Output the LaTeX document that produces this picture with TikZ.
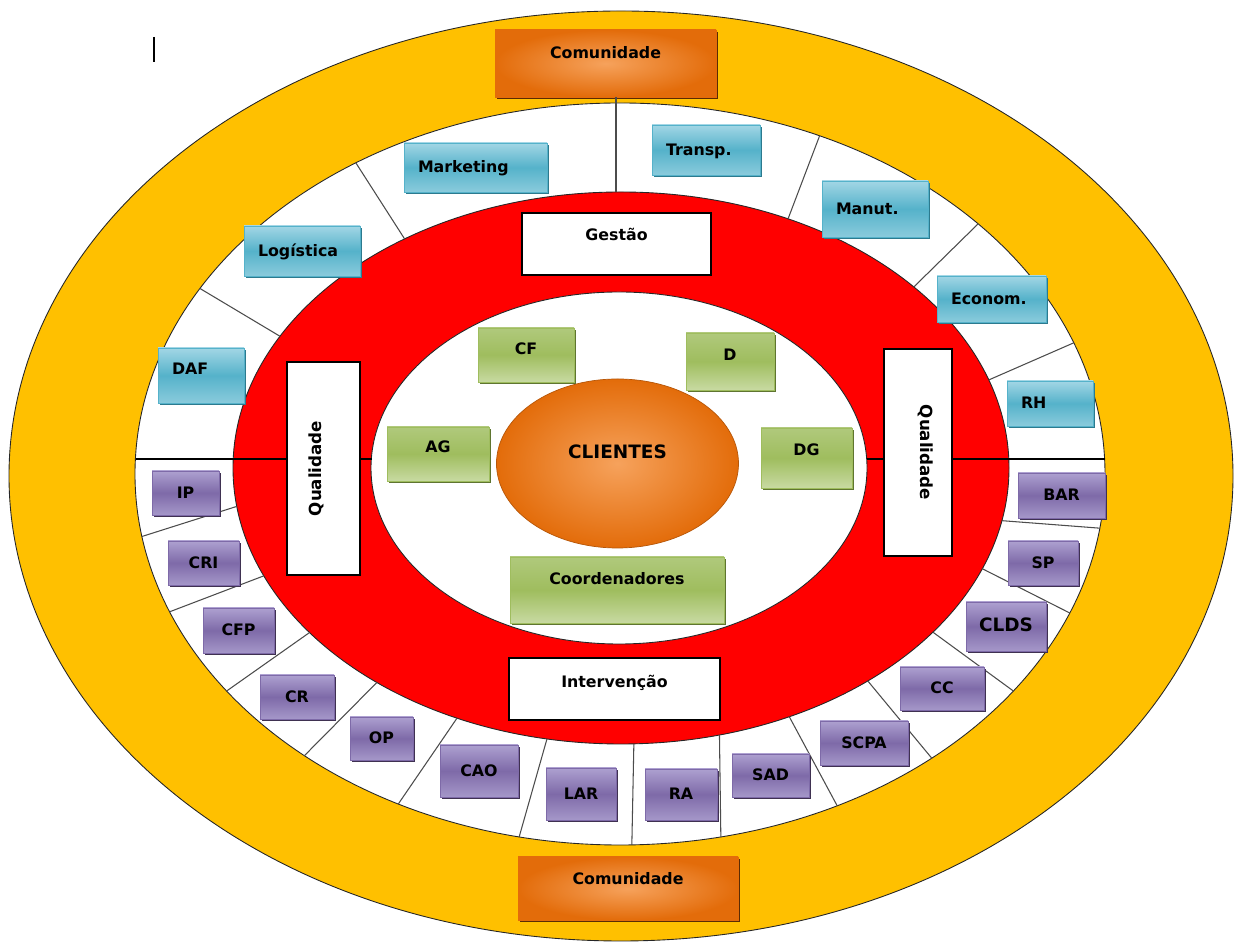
\documentclass[tikz,border=0pt]{standalone}
\usepackage{fontspec}
\setmainfont{DejaVu Sans}
\usepackage{tikz}
\usetikzlibrary{calc,shadows,shapes.geometric}
\definecolor{ringyellow}{HTML}{FFC000}
\definecolor{ringred}{HTML}{FF0000}
\definecolor{blueA}{HTML}{A2D6E5}
\definecolor{blueM}{HTML}{55B2CA}
\definecolor{blueB}{HTML}{8ACBDC}
\definecolor{blueS}{HTML}{2C7A8E}
\definecolor{lilaA}{HTML}{ADA0D0}
\definecolor{lilaM}{HTML}{7E6AA8}
\definecolor{lilaB}{HTML}{A597C9}
\definecolor{lilaS}{HTML}{3F3151}
\definecolor{greenA}{HTML}{B0C97C}
\definecolor{greenM}{HTML}{9FBD5E}
\definecolor{greenB}{HTML}{C8DAA2}
\definecolor{greenS}{HTML}{5F7530}
\definecolor{orangeIn}{HTML}{F6A25C}
\definecolor{orangeOut}{HTML}{E36C0A}

\begin{document}
\begin{tikzpicture}[
  lbl/.style={font=\bfseries\fontsize{9}{11}\selectfont,text height=7pt,
              text depth=0.8pt,inner sep=0pt},
  up/.style={text depth=#1},
  ring/.style={draw=black!85,line width=0.5pt},
  divider/.style={draw=black!70,line width=0.6pt},
  axis/.style={line width=1.6pt},
  bluebox/.style={lbl,draw=blueM,line width=0.3pt,top color=blueA,
              bottom color=blueB,middle color=blueM,align=left,inner xsep=0.28cm,
              drop shadow={shadow xshift=1.2pt,shadow yshift=-1.2pt,fill=blueS,opacity=1}},
  lilabox/.style={lbl,draw=lilaM,line width=0.3pt,top color=lilaA,
              bottom color=lilaB,middle color=lilaM,
              drop shadow={shadow xshift=1.2pt,shadow yshift=-1.2pt,fill=lilaS,opacity=1}},
  greenbox/.style={lbl,draw=greenM,line width=0.3pt,top color=greenA,
              bottom color=greenB,middle color=greenM,
              drop shadow={shadow xshift=1.2pt,shadow yshift=-1.2pt,fill=greenS,opacity=1}},
  whitebox/.style={lbl,draw,fill=white,line width=0.8pt},
  combox/.style={lbl,draw=orangeOut,inner color=orangeIn,outer color=orangeOut,
              drop shadow={shadow xshift=1.2pt,shadow yshift=-1.2pt,fill=black!60!orangeOut,opacity=1}}]
  \useasboundingbox (0,0) rectangle (24.68,18.88);
  \coordinate (yc) at (12.42,9.36);
  \coordinate (wc) at (12.40,9.40);
  \coordinate (rc) at (12.42,9.52);
  \coordinate (ic) at (12.38,9.52);
  \filldraw[ring,fill=ringyellow] (yc) ellipse [x radius=12.24,y radius=9.30];
  \filldraw[ring,fill=white] (wc) ellipse [x radius=9.70,y radius=7.42];
  \filldraw[ring,fill=ringred] (rc) ellipse [x radius=7.76,y radius=5.52];
  \filldraw[ring,fill=white] (ic) ellipse [x radius=4.96,y radius=3.52];
  \foreach \r/\w in {123.9/123,151.5/150,64.5/65.7,41/42.4,18.6/20.7,
                     188/189.7,203/201.8,216.6/215.8,231/229.4,245/242.8,259/258,
                     271.9/271.4,284.7/282,295.7/296.6,309.5/310,323.5/324.2,
                     338.6/338,349/351.6}
    \draw[divider] ($(rc)+(\r:7.76 and 5.52)$) -- ($(wc)+(\w:9.70 and 7.42)$);
  \coordinate (hl1) at (2.71,9.70);
  \coordinate (hl2) at (7.43,9.70);
  \coordinate (hr1) at (17.33,9.70);
  \coordinate (hr2) at (22.09,9.70);
  \draw[axis] (hl1) -- (hl2);
  \draw[axis] (hr1) -- (hr2);
  \draw[line width=1.3pt] (3.08,18.14) -- (3.08,17.64);

  \node[combox,minimum width=4.42cm,minimum height=1.34cm,up=12.8pt] (comtop) at (12.11,17.61) {Comunidade};
  \node[combox,minimum width=4.40cm,minimum height=1.26cm,up=11.6pt] (combot) at (12.56,1.11) {Comunidade};
  \draw[divider] ($(comtop.south)+(0.21,0)$) -- ++(0,-1.90);

  \node[whitebox,minimum width=3.78cm,minimum height=1.24cm,up=11pt] (gestao) at (12.33,14.00) {Gestão};
  \node[whitebox,minimum width=4.22cm,minimum height=1.24cm,up=8.8pt] (interv) at (12.29,5.10) {Intervenção};
  \node[whitebox,rotate=90,minimum width=4.26cm,minimum height=1.46cm,up=9.8pt,
        font=\bfseries\fontsize{9.5}{11}\selectfont] (qualL) at (6.47,9.51) {Qualidade};
  \node[whitebox,rotate=-90,minimum width=4.14cm,minimum height=1.36cm,up=9.8pt,
        font=\bfseries\fontsize{9.5}{11}\selectfont] (qualR) at (18.36,9.83) {Qualidade};

  \node[lbl,ellipse,draw=orangeOut!80!black,line width=0.4pt,inner color=orangeIn,outer color=orangeOut,
        minimum width=4.84cm,minimum height=3.38cm,up=12.2pt,
        font=\bfseries\fontsize{10.5}{12}\selectfont] (clientes) at (12.35,9.61) {CLIENTES};
  \node[greenbox,minimum width=1.92cm,minimum height=1.08cm,up=7.6pt] (cf) at (10.52,11.78) {CF};
  \node[greenbox,minimum width=1.76cm,minimum height=1.14cm,up=8.2pt] (d) at (14.60,11.65) {D};
  \node[greenbox,minimum width=2.04cm,minimum height=1.08cm,up=8.2pt] (ag) at (8.76,9.80) {AG};
  \node[greenbox,minimum width=1.82cm,minimum height=1.20cm,up=10.4pt] (dg) at (16.13,9.72) {DG};
  \node[greenbox,minimum width=4.28cm,minimum height=1.32cm,up=12.8pt] (coord) at (12.34,7.08) {Coordenadores};

  \node[bluebox,text width=2.30cm,minimum height=0.98cm] (mkt) at (9.51,15.53) {Marketing};
  \node[bluebox,text width=1.60cm,minimum height=1.00cm] (transp) at (14.12,15.88) {Transp.};
  \node[bluebox,text width=1.76cm,minimum height=1.00cm] (logist) at (6.04,13.86) {Logística};
  \node[bluebox,text width=1.56cm,minimum height=1.12cm] (manut) at (17.50,14.70) {Manut.};
  \node[bluebox,text width=1.62cm,minimum height=0.92cm] (econ) at (19.83,12.90) {Econom.};
  \node[bluebox,text width=1.16cm,minimum height=1.10cm,up=7.6pt] (daf) at (4.02,11.37) {DAF};
  \node[bluebox,text width=1.16cm,minimum height=0.90cm] (rh) at (21.00,10.81) {RH};

  \node[lilabox,minimum width=1.34cm,minimum height=0.88cm] (ip) at (3.71,9.02) {IP};
  \node[lilabox,minimum width=1.42cm,minimum height=0.88cm] (cri) at (4.07,7.62) {CRI};
  \node[lilabox,minimum width=1.42cm,minimum height=0.90cm] (cfp) at (4.77,6.27) {CFP};
  \node[lilabox,minimum width=1.48cm,minimum height=0.88cm] (cr) at (5.94,4.94) {CR};
  \node[lilabox,minimum width=1.26cm,minimum height=0.86cm] (op) at (7.63,4.11) {OP};
  \node[lilabox,minimum width=1.56cm,minimum height=1.04cm] (cao) at (9.58,3.46) {CAO};
  \node[lilabox,minimum width=1.40cm,minimum height=1.04cm] (lar) at (11.62,3.00) {LAR};
  \node[lilabox,minimum width=1.44cm,minimum height=1.02cm] (ra) at (13.62,2.99) {RA};
  \node[lilabox,minimum width=1.54cm,minimum height=0.86cm] (sad) at (15.41,3.37) {SAD};
  \node[lilabox,minimum width=1.76cm,minimum height=0.88cm] (scpa) at (17.28,4.02) {SCPA};
  \node[lilabox,minimum width=1.68cm,minimum height=0.86cm] (cc) at (18.84,5.11) {CC};
  \node[lilabox,minimum width=1.60cm,minimum height=0.98cm,
        font=\bfseries\fontsize{10.5}{12}\selectfont] (clds) at (20.12,6.35) {CLDS};
  \node[lilabox,minimum width=1.40cm,minimum height=0.88cm] (sp) at (20.86,7.62) {SP};
  \node[lilabox,minimum width=1.74cm,minimum height=0.90cm] (bar) at (21.23,8.97) {BAR};
\end{tikzpicture}
\end{document}
